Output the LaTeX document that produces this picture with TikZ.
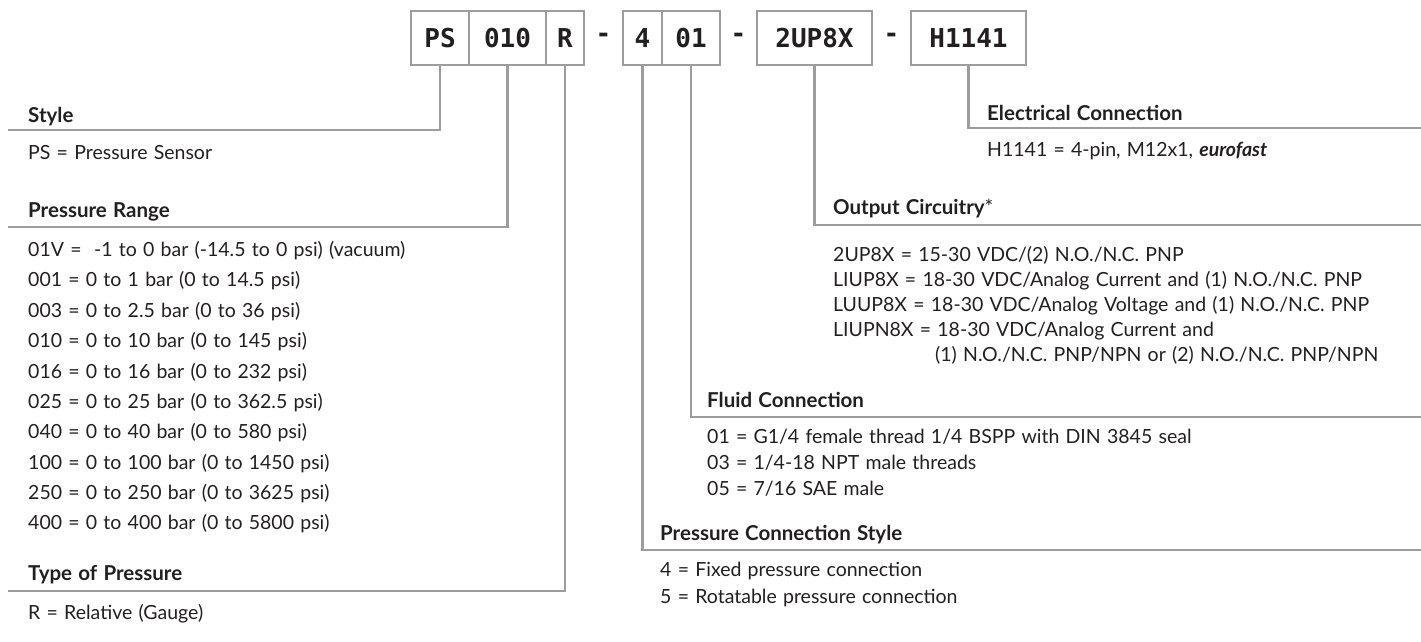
\documentclass[tikz,border=0pt]{standalone}
\usepackage{fontspec}
\setmainfont{Lato}[WordSpace=1.25]
\newfontfamily\codefont{DejaVu Sans Mono}
\usetikzlibrary{positioning}
\definecolor{lineGray}{HTML}{9D9D9D}
\definecolor{inkDark}{HTML}{231F20}
\tikzset{
  code/.style  ={draw=lineGray, line width=2.8pt, minimum height=54pt, inner sep=0pt, outer sep=0pt,
                 font=\codefont\bfseries\fontsize{26}{26}\selectfont, text=inkDark},
  sep/.style   ={minimum height=54pt, inner sep=0pt, outer sep=0pt,
                 font=\codefont\bfseries\fontsize{26}{26}\selectfont, text=inkDark},
  leader/.style={draw=lineGray, line width=2.8pt},
  head/.style  ={anchor=base west, inner sep=0pt, font=\bfseries\fontsize{20.5}{20.5}\selectfont, text=inkDark},
  row/.style   ={anchor=base west, inner sep=0pt, font=\fontsize{19.5}{19.5}\selectfont, text=inkDark},
}
\begin{document}
\begin{tikzpicture}[x=1pt, y=-1pt]
  \useasboundingbox (0,0) rectangle (1421,641);

  % part number along the top
  \node[code, minimum width=58pt] (ps) at (440,38) {PS};
  \node[code, minimum width=77pt,  right=0pt of ps]  (rng) {010};
  \node[code, minimum width=38pt,  right=0pt of rng] (typ) {R};
  \node[sep,  minimum width=39pt,  right=0pt of typ] (dA)  {-};
  \node[code, minimum width=39pt,  right=0pt of dA]  (con) {4};
  \node[code, minimum width=58pt,  right=0pt of con] (fld) {01};
  \node[sep,  minimum width=37pt,  right=0pt of fld] (dB)  {-};
  \node[code, minimum width=115pt, right=0pt of dB]  (out) {2UP8X};
  \node[sep,  minimum width=39pt,  right=0pt of out] (dC)  {-};
  \node[code, minimum width=115pt, right=0pt of dC]  (ele) {H1141};

  % ends of the leader lines
  \coordinate (styL) at (8,130);
  \coordinate (rngL) at (8,227);
  \coordinate (typL) at (8,591);
  \coordinate (eleR) at (1421,128);
  \coordinate (outR) at (1421,225);
  \coordinate (fldR) at (1421,417);
  \coordinate (conR) at (1421,550);
  \draw[leader] (ps.south)  |- (styL);
  \draw[leader] (rng.south) |- (rngL);
  \draw[leader] (typ.south) |- (typL);
  \draw[leader] (ele.south) |- (eleR);
  \draw[leader] (out.south) |- (outR);
  \draw[leader] (fld.south) |- (fldR);
  \draw[leader] (con.south) |- (conR);

  % left column
  \node[head] (hSty) at (28,122) {Style};
  \node[row]  (sPS)  at (28,159) {PS = Pressure Sensor};

  \node[head] (hRng) at (28,217) {Pressure Range};
  \node[row]  (r01v) at (28,256) {01V = \ -1 to 0 bar (-14.5 to 0 psi) (vacuum)};
  \node[row]  (r001) at (28,286) {001 = 0 to 1 bar (0 to 14.5 psi)};
  \node[row]  (r003) at (28,317) {003 = 0 to 2.5 bar (0 to 36 psi)};
  \node[row]  (r010) at (28,347) {010 = 0 to 10 bar (0 to 145 psi)};
  \node[row]  (r016) at (28,378) {016 = 0 to 16 bar (0 to 232 psi)};
  \node[row]  (r025) at (28,408) {025 = 0 to 25 bar (0 to 362.5 psi)};
  \node[row]  (r040) at (28,438) {040 = 0 to 40 bar (0 to 580 psi)};
  \node[row]  (r100) at (28,469) {100 = 0 to 100 bar (0 to 1450 psi)};
  \node[row]  (r250) at (28,499) {250 = 0 to 250 bar (0 to 3625 psi)};
  \node[row]  (r400) at (28,529) {400 = 0 to 400 bar (0 to 5800 psi)};

  \node[head] (hTyp) at (28,580) {Type of Pressure};
  \node[row]  (tR)   at (28,619) {R = Relative (Gauge)};

  % right column
  \node[head] (hEle) at (987,120) {Electrical Connection};
  \node[row]  (eH)   at (987,156) {H1141 = 4-pin, M12x1, \textbf{\textit{eurofast}}};

  \node[head] (hOut) at (833,214) {Output Circuitry\textmd{*}};
  \node[row]  (o2u)  at (833,261) {2UP8X = 15-30 VDC/(2) N.O./N.C. PNP};
  \node[row]  (oLI)  at (833,286) {LIUP8X = 18-30 VDC/Analog Current and (1) N.O./N.C. PNP};
  \node[row]  (oLU)  at (833,311) {LUUP8X = 18-30 VDC/Analog Voltage and (1) N.O./N.C. PNP};
  \node[row]  (oLN)  at (833,336) {LIUPN8X = 18-30 VDC/Analog Current and};
  \node[row]  (oLN2) at (935,361) {(1) N.O./N.C. PNP/NPN or (2) N.O./N.C. PNP/NPN};

  \node[head] (hFld) at (707,407) {Fluid Connection};
  \node[row]  (f01)  at (707,443) {01 = G1/4 female thread 1/4 BSPP with DIN 3845 seal};
  \node[row]  (f03)  at (707,469) {03 = 1/4-18 NPT male threads};
  \node[row]  (f05)  at (707,495) {05 = 7/16 SAE male};

  \node[head] (hCon) at (660,540) {Pressure Connection Style};
  \node[row]  (c4)   at (660,576) {4 = Fixed pressure connection};
  \node[row]  (c5)   at (660,603) {5 = Rotatable pressure connection};
\end{tikzpicture}
\end{document}
